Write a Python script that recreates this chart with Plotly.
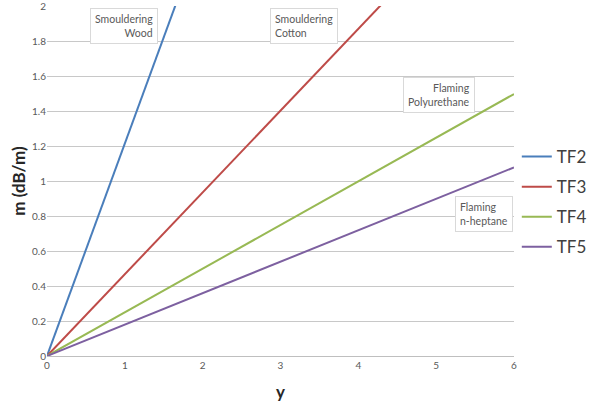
import plotly.graph_objects as go

x_vals = [0, 6]
series_names = ["TF2", "TF3", "TF4", "TF5"]
tf2 = [0, 7.3]
tf3 = [0, 2.81]
tf4 = [0, 1.5]
tf5 = [0, 1.08]
colors = ["#4A7EBB", "#BE4B48", "#98B954", "#7D60A0"]

x_ticks = [0, 1, 2, 3, 4, 5, 6]
y_ticks = [0, 0.2, 0.4, 0.6, 0.8, 1, 1.2, 1.4, 1.6, 1.8, 2]

labels = ["Smouldering<br>Wood", "Smouldering<br>Cotton", "Flaming<br>Polyurethane", "Flaming<br>n-heptane"]

FONT = "Lato, 'Liberation Sans', sans-serif"

fig = go.Figure()
for name, ys, c in zip(series_names, [tf2, tf3, tf4, tf5], colors):
    fig.add_trace(go.Scatter(x=x_vals, y=ys, mode="lines", name=name,
                             legendgroup=name,
                             line=dict(color=c, width=2)))

# label boxes: (x, y, xanchor, align)
boxes = [(1.42, 1.995, "right", "right"),
         (2.86, 1.995, "left", "left"),
         (5.5, 1.6, "right", "right"),
         (5.24, 0.915, "left", "left")]
for text, (bx, by, xa, al) in zip(labels, boxes):
    fig.add_annotation(x=bx, y=by, xref="x", yref="y", text=text, showarrow=False,
                       xanchor=xa, yanchor="top", align=al,
                       font=dict(family=FONT, size=10.5, color="#595959"),
                       bgcolor="white", bordercolor="#d9d9d9", borderwidth=1,
                       borderpad=4)

fig.update_layout(
    width=591, height=405,
    margin=dict(l=47, r=77, t=6, b=49, autoexpand=False),
    paper_bgcolor="white", plot_bgcolor="white",
    font=dict(family=FONT),
    showlegend=True,
    legend=dict(x=1.006, y=0.62, xanchor="left", yanchor="top",
                font=dict(size=17, color="#404040"), tracegroupgap=5,
                bgcolor="rgba(0,0,0,0)"),
    xaxis=dict(range=[0, 6], tickvals=x_ticks, showgrid=False, zeroline=False,
               showline=True, linecolor="#bfbfbf", linewidth=1, automargin=False,
               tickfont=dict(size=10, color="#595959"), ticklabeloverflow="allow",
               title=dict(text="<b>y</b>", font=dict(size=17, color="#262626"),
                          standoff=16)),
    yaxis=dict(range=[0, 2.004], tickvals=y_ticks, showgrid=True, gridcolor="#c8c8c8",
               gridwidth=1, zeroline=False, showline=False, automargin=False,
               tickfont=dict(size=10, color="#595959"), ticklabeloverflow="allow",
               title=dict(text="<b>m (dB/m)</b>", font=dict(size=17, color="#262626"),
                          standoff=2)),
)

fig.write_html("out.html", config={"displayModeBar": False},
               post_script="document.body.style.margin='0';")
